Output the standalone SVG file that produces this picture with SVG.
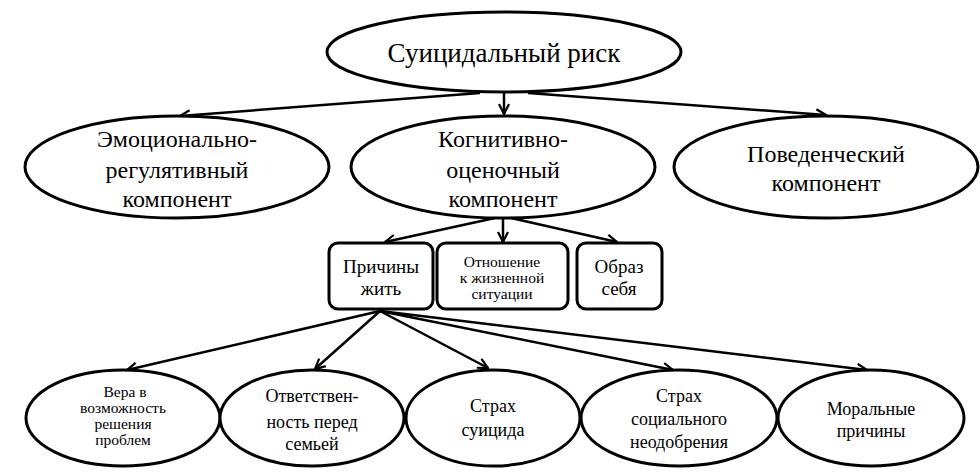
<svg xmlns="http://www.w3.org/2000/svg" width="980" height="475" viewBox="0 0 980 475">
<defs>
<marker id="a" viewBox="0 0 12 12" refX="11" refY="6" markerWidth="12" markerHeight="12" markerUnits="userSpaceOnUse" orient="auto">
<path d="M1,1 L11,6 L1,11" fill="none" stroke="#000" stroke-width="2.2"/>
</marker>
</defs>
<rect width="980" height="475" fill="#fff"/>
<g id="connectors" fill="none" stroke="#000" stroke-width="2.5" marker-end="url(#a)">
<path d="M480,93 L180,116"/>
<path d="M504,92 L504,114"/>
<path d="M528,93 L826,115"/>
<path d="M495,218 L385,242"/>
<path d="M503,218 L503,242"/>
<path d="M511,218 L617,242"/>
<path d="M380,311 L127,370"/>
<path d="M380,311 L315,369"/>
<path d="M380,311 L488,368"/>
<path d="M380,311 L673,370"/>
<path d="M380,311 L867,370"/>
</g>
<g id="n1"><ellipse cx="504" cy="52" rx="177" ry="40" fill="#fff" stroke="#000" stroke-width="3"/><text font-family="Liberation Serif" text-anchor="middle" x="504" y="62" font-size="27">Суицидальный риск</text></g>
<g id="n2"><ellipse cx="177" cy="167" rx="152" ry="51" fill="#fff" stroke="#000" stroke-width="3"/>
<text font-family="Liberation Serif" text-anchor="middle" font-size="24" x="177" y="147">Эмоционально-</text>
<text font-family="Liberation Serif" text-anchor="middle" font-size="24" x="177" y="178">регулятивный</text>
<text font-family="Liberation Serif" text-anchor="middle" font-size="24" x="177" y="207">компонент</text></g>
<g id="n3"><ellipse cx="503" cy="167" rx="152" ry="51" fill="#fff" stroke="#000" stroke-width="3"/>
<text font-family="Liberation Serif" text-anchor="middle" font-size="24" x="503" y="147">Когнитивно-</text>
<text font-family="Liberation Serif" text-anchor="middle" font-size="24" x="503" y="178">оценочный</text>
<text font-family="Liberation Serif" text-anchor="middle" font-size="24" x="503" y="207">компонент</text></g>
<g id="n4"><ellipse cx="826" cy="167" rx="152" ry="51" fill="#fff" stroke="#000" stroke-width="3"/>
<text font-family="Liberation Serif" text-anchor="middle" font-size="24" x="826" y="162">Поведенческий</text>
<text font-family="Liberation Serif" text-anchor="middle" font-size="24" x="826" y="191">компонент</text></g>
<g id="n5"><rect x="329" y="243" width="104" height="66" rx="9" fill="#fff" stroke="#000" stroke-width="3"/>
<text font-family="Liberation Serif" text-anchor="middle" font-size="19" x="381" y="273">Причины</text>
<text font-family="Liberation Serif" text-anchor="middle" font-size="19" x="381" y="295">жить</text></g>
<g id="n6"><rect x="437" y="243" width="131" height="66" rx="9" fill="#fff" stroke="#000" stroke-width="3"/>
<text font-family="Liberation Serif" text-anchor="middle" font-size="15.5" x="502" y="267">Отношение</text>
<text font-family="Liberation Serif" text-anchor="middle" font-size="15.5" x="502" y="283">к жизненной</text>
<text font-family="Liberation Serif" text-anchor="middle" font-size="15.5" x="502" y="299">ситуации</text></g>
<g id="n7"><rect x="577" y="243" width="85" height="66" rx="9" fill="#fff" stroke="#000" stroke-width="3"/>
<text font-family="Liberation Serif" text-anchor="middle" font-size="19" x="619" y="273">Образ</text>
<text font-family="Liberation Serif" text-anchor="middle" font-size="19" x="619" y="295">себя</text></g>
<g id="n8"><ellipse cx="123" cy="418" rx="97" ry="48" fill="#fff" stroke="#000" stroke-width="3"/>
<text font-family="Liberation Serif" text-anchor="middle" font-size="15.5" x="125" y="397">Вера в</text>
<text font-family="Liberation Serif" text-anchor="middle" font-size="15.5" x="123" y="413">возможность</text>
<text font-family="Liberation Serif" text-anchor="middle" font-size="15.5" x="123" y="429">решения</text>
<text font-family="Liberation Serif" text-anchor="middle" font-size="15.5" x="123" y="445">проблем</text></g>
<g id="n9"><ellipse cx="312" cy="418" rx="92" ry="48" fill="#fff" stroke="#000" stroke-width="3"/>
<text font-family="Liberation Serif" text-anchor="middle" font-size="18" x="312" y="402">Ответствен-</text>
<text font-family="Liberation Serif" text-anchor="middle" font-size="18" x="312" y="428">ность перед</text>
<text font-family="Liberation Serif" text-anchor="middle" font-size="18" x="312" y="450">семьей</text></g>
<g id="n10"><ellipse cx="493" cy="418" rx="87" ry="48" fill="#fff" stroke="#000" stroke-width="3"/>
<text font-family="Liberation Serif" text-anchor="middle" font-size="18" x="493" y="412">Страх</text>
<text font-family="Liberation Serif" text-anchor="middle" font-size="18" x="493" y="436">суицида</text></g>
<g id="n11"><ellipse cx="679" cy="418" rx="98" ry="48" fill="#fff" stroke="#000" stroke-width="3"/>
<text font-family="Liberation Serif" text-anchor="middle" font-size="18" x="679" y="402">Страх</text>
<text font-family="Liberation Serif" text-anchor="middle" font-size="18" x="679" y="425">социального</text>
<text font-family="Liberation Serif" text-anchor="middle" font-size="18" x="679" y="448">неодобрения</text></g>
<g id="n12"><ellipse cx="871" cy="418" rx="93" ry="48" fill="#fff" stroke="#000" stroke-width="3"/>
<text font-family="Liberation Serif" text-anchor="middle" font-size="18" x="871" y="415">Моральные</text>
<text font-family="Liberation Serif" text-anchor="middle" font-size="18" x="871" y="437">причины</text></g>
</svg>
